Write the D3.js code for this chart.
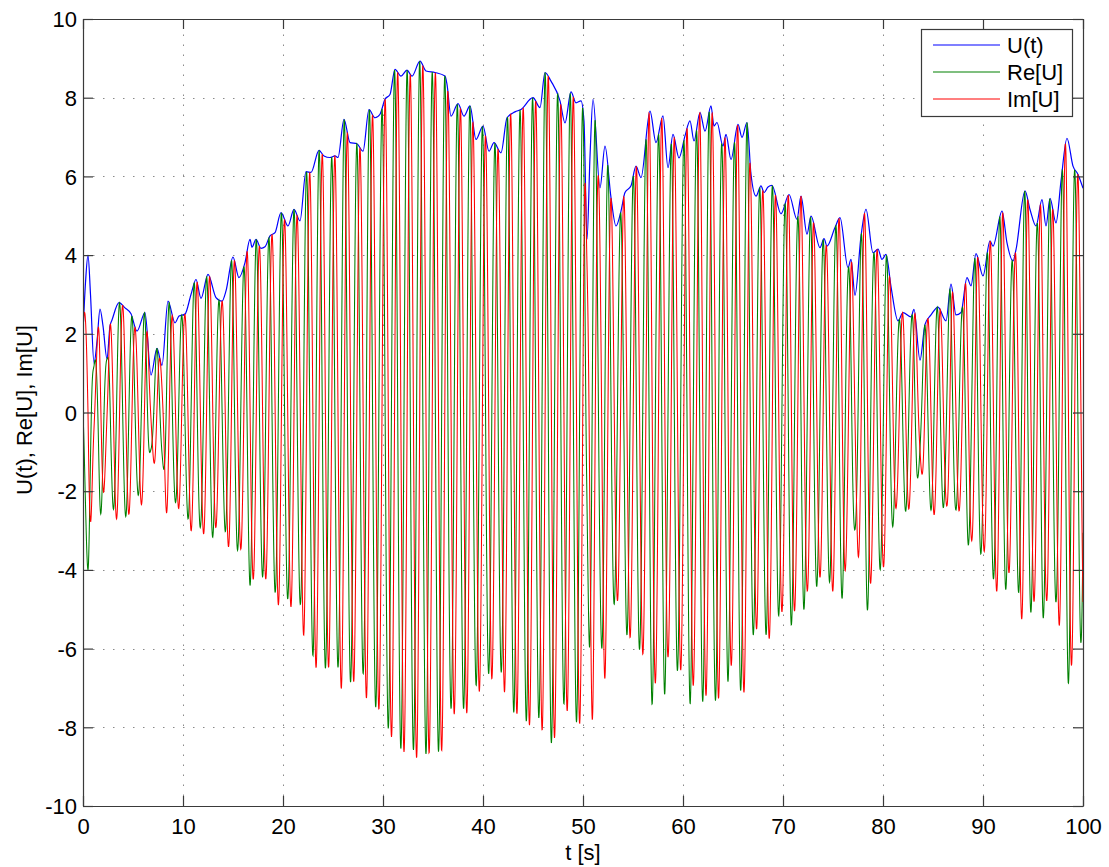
<!DOCTYPE html>
<html>
<head>
<meta charset="utf-8">
<script src="https://cdn.jsdelivr.net/npm/d3@7"></script>
<style>
  html, body { margin: 0; padding: 0; background: #fff; }
  svg { display: block; font-family: "Liberation Sans", Arial, Helvetica, sans-serif; }
</style>
</head>
<body>
<svg id="chart" width="1109" height="867"></svg>
<script>
// Modulus |U(t)| samples: time [s] and value.
const envT = [
  0.0, 0.25, 0.5, 0.75, 1.1, 1.4, 1.7, 2.0, 2.4, 2.7, 2.9, 3.6, 4.2, 4.8, 5.4, 6.2, 6.8, 7.4, 7.9,
  8.5, 9.2, 9.6, 10.2, 10.8, 11.3, 11.8, 12.5, 13.3, 13.9, 14.3, 15.0, 15.6, 16.2, 16.7, 16.9,
  17.3, 17.8, 18.2, 18.7, 19.2, 19.8, 20.5, 21.1, 21.7, 22.3, 22.8, 23.6, 24.1, 24.7, 25.2, 25.5,
  26.1, 26.7, 27.4, 28.0, 28.6, 29.2, 29.7, 30.2, 30.7, 31.2, 31.8, 32.4, 32.9, 33.7, 34.3, 35.2,
  36.2, 36.4, 36.8, 37.5, 38.1, 38.7, 39.3, 40.0, 40.6, 41.1, 41.8, 42.4, 43.2, 43.8, 45.0, 45.7,
  46.2, 46.8, 47.7, 48.2, 48.8, 49.3, 49.8, 50.1, 50.4, 50.7, 51.0, 51.7, 52.2, 52.8, 53.3, 53.8,
  54.2, 54.8, 55.3, 55.8, 56.7, 57.3, 58.0, 58.5, 59.0, 59.6, 60.2, 60.7, 61.1, 61.7, 62.2, 62.8,
  63.1, 63.4, 64.0, 64.3, 64.8, 65.5, 65.9, 66.4, 66.8, 67.3, 67.8, 68.1, 68.5, 68.9, 69.8, 70.6,
  71.4, 71.8, 72.4, 72.8, 73.7, 74.1, 74.4, 75.2, 75.7, 76.5, 76.8, 77.2, 77.8, 78.3, 79.0, 79.5,
  79.9, 80.3, 80.8, 81.5, 82.0, 82.8, 83.1, 83.7, 84.2, 84.8, 85.5, 86.3, 86.8, 87.3, 87.8, 88.4,
  88.8, 89.3, 90.0, 90.7, 91.0, 91.9, 92.4, 93.0, 93.3, 94.2, 94.7, 95.3, 95.9, 96.3, 96.7, 97.3,
  97.8, 98.4, 99.0, 99.5, 100.0
];
const envU = [
  2.05, 3.3, 4.0, 3.0, 1.25, 1.8, 2.63, 2.2, 1.36, 2.2, 2.35, 2.79, 2.66, 2.51, 2.07, 2.54, 0.95, 1.63, 1.2,
  2.83, 2.28, 2.45, 2.5, 3.0, 3.38, 2.9, 3.51, 2.92, 2.83, 3.09, 3.95, 3.43, 3.81, 4.40, 4.2,
  4.40, 4.17, 4.21, 4.49, 4.57, 5.08, 4.74, 5.16, 4.87, 6.12, 6.10, 6.66, 6.52, 6.48, 6.52, 6.48,
  7.45, 6.86, 6.83, 6.64, 7.70, 7.49, 7.58, 7.96, 8.08, 8.72, 8.55, 8.70, 8.55, 8.93, 8.68, 8.64,
  8.55, 8.34, 7.53, 7.85, 7.53, 7.79, 6.94, 7.28, 6.64, 6.86, 6.6, 7.49, 7.64, 7.70, 8.00, 7.75,
  8.64, 8.42, 7.92, 7.36, 8.15, 7.87, 7.92, 7.4, 4.4, 6.5, 7.96, 5.71, 6.77, 5.46, 4.74, 5.12,
  5.59, 5.76, 6.26, 5.97, 7.66, 6.86, 7.54, 6.22, 7.07, 6.47, 7.03, 7.41, 6.90, 7.62, 7.15, 7.79,
  7.28, 7.37, 6.77, 7.07, 6.43, 7.32, 6.99, 7.37, 6.05, 5.50, 5.76, 5.59, 5.73, 5.77, 5.05, 5.54,
  4.91, 5.50, 4.53, 4.99, 4.19, 4.42, 4.23, 4.7, 4.95, 3.68, 3.89, 2.98, 4.48, 5.16, 4.06, 4.15,
  3.89, 4.02, 3.2, 2.33, 2.54, 2.43, 2.62, 1.33, 2.24, 2.48, 2.68, 2.33, 3.26, 2.48, 2.54, 3.43,
  3.22, 4.04, 3.47, 4.36, 4.23, 5.12, 4.31, 3.85, 4.14, 5.63, 5.16, 4.74, 5.41, 4.74, 5.44, 4.82,
  5.88, 6.97, 6.26, 6.05, 5.7
];

// Phase of U(t) in cycles at reference times (integer = crest of Re[U]).
const phaseT   = [0, 0.5, 1.17, 17.33, 33.67, 51.23, 67.67, 84.17, 99.17, 100];
const phaseCyc = [0.25, 0.5, 1, 14, 27, 41, 54, 67, 79, 79.66];

const xTicks = [0, 10, 20, 30, 40, 50, 60, 70, 80, 90, 100];
const yTicks = [-10, -8, -6, -4, -2, 0, 2, 4, 6, 8, 10];

const seriesNames = ["U(t)", "Re[U]", "Im[U]"];
const seriesColors = ["#0000ff", "#008000", "#ff0000"];

const xLabel = "t [s]";
const yLabel = "U(t), Re[U], Im[U]";

// ---- layout ----
const svg = d3.select("#chart");
const plotL = 83, plotR = 1083, plotT = 19, plotB = 806;
const x = d3.scaleLinear().domain([0, 100]).range([plotL, plotR]);
const y = d3.scaleLinear().domain([-10, 10]).range([plotB, plotT]);
const FONT = 22;

// ---- monotone cubic evaluation (same tangents as d3.curveMonotoneX) ----
function sgn(v) { return v < 0 ? -1 : 1; }
function monotoneTangents(xs, ys) {
  const n = xs.length, t = new Array(n).fill(0);
  for (let i = 1; i < n - 1; i++) {
    const h0 = xs[i] - xs[i - 1], h1 = xs[i + 1] - xs[i];
    const s0 = (ys[i] - ys[i - 1]) / h0, s1 = (ys[i + 1] - ys[i]) / h1;
    const p = (s0 * h1 + s1 * h0) / (h0 + h1);
    t[i] = (sgn(s0) + sgn(s1)) * Math.min(Math.abs(s0), Math.abs(s1), 0.5 * Math.abs(p)) || 0;
  }
  const hA = xs[1] - xs[0];
  t[0] = (3 * (ys[1] - ys[0]) / hA - t[1]) / 2;
  const hB = xs[n - 1] - xs[n - 2];
  t[n - 1] = (3 * (ys[n - 1] - ys[n - 2]) / hB - t[n - 2]) / 2;
  return t;
}
const envTan = monotoneTangents(envT, envU);
const bis = d3.bisector(d => d).right;
function modulusAt(tt) {
  const i = Math.min(Math.max(bis(envT, tt) - 1, 0), envT.length - 2);
  const x0 = envT[i], x1 = envT[i + 1], h = x1 - x0, u = (tt - x0) / h;
  const y0 = envU[i], y1 = envU[i + 1], m0 = envTan[i] * h, m1 = envTan[i + 1] * h;
  const u2 = u * u, u3 = u2 * u;
  return (2 * u3 - 3 * u2 + 1) * y0 + (u3 - 2 * u2 + u) * m0 + (-2 * u3 + 3 * u2) * y1 + (u3 - u2) * m1;
}
const phaseScale = d3.scaleLinear().domain(phaseT).range(phaseCyc);

// Real and imaginary parts on a fine time grid: U = |U| e^{i 2π φ}
const dt = 0.025;
const tGrid = d3.range(0, 100 + dt / 2, dt);
const reU = tGrid.map(tt => [tt, modulusAt(tt) * Math.cos(2 * Math.PI * phaseScale(tt))]);
const imU = tGrid.map(tt => [tt, modulusAt(tt) * Math.sin(2 * Math.PI * phaseScale(tt))]);
const absU = envT.map((tt, i) => [tt, envU[i]]);

// ---- grid ----
const grid = svg.append("g").attr("stroke", "#8a8a8a").attr("stroke-width", 1)
  .attr("stroke-dasharray", "1.5,8.5");
grid.selectAll("line.gx").data(xTicks.slice(1, -1)).join("line")
  .attr("x1", d => Math.round(x(d)) + 0.5).attr("x2", d => Math.round(x(d)) + 0.5)
  .attr("y1", plotB).attr("y2", plotT);
grid.selectAll("line.gy").data(yTicks.slice(1, -1)).join("line")
  .attr("y1", d => Math.round(y(d)) + 0.5).attr("y2", d => Math.round(y(d)) + 0.5)
  .attr("x1", plotL).attr("x2", plotR);

// ---- data lines ----
const clipId = "plotClip";
svg.append("clipPath").attr("id", clipId).append("rect")
  .attr("x", plotL).attr("y", plotT).attr("width", plotR - plotL).attr("height", plotB - plotT);
const plot = svg.append("g").attr("clip-path", `url(#${clipId})`).attr("fill", "none");

const smoothLine = d3.line().x(d => x(d[0])).y(d => y(d[1])).curve(d3.curveMonotoneX);
const plainLine = d3.line().x(d => x(d[0])).y(d => y(d[1]));

plot.append("path").datum(absU).attr("d", smoothLine)
  .attr("stroke", seriesColors[0]).attr("stroke-width", 1.2);
plot.append("path").datum(reU).attr("d", plainLine)
  .attr("stroke", seriesColors[1]).attr("stroke-width", 1.05);
plot.append("path").datum(imU).attr("d", plainLine)
  .attr("stroke", seriesColors[2]).attr("stroke-width", 1.05);

// ---- axes box with inward ticks on all sides ----
const axisColor = "#3a3a3a";
const tickLen = 10;
const fmt = d => String(d);

const gx = svg.append("g").attr("transform", `translate(0,${plotB})`)
  .call(d3.axisBottom(x).tickValues(xTicks).tickFormat(fmt).tickSizeInner(-tickLen).tickSizeOuter(0).tickPadding(19));
const gy = svg.append("g").attr("transform", `translate(${plotL},0)`)
  .call(d3.axisLeft(y).tickValues(yTicks).tickFormat(fmt).tickSizeInner(-tickLen).tickSizeOuter(0).tickPadding(6));
const gxTop = svg.append("g").attr("transform", `translate(0,${plotT})`)
  .call(d3.axisTop(x).tickValues(xTicks).tickFormat("").tickSizeInner(-tickLen).tickSizeOuter(0));
const gyRight = svg.append("g").attr("transform", `translate(${plotR},0)`)
  .call(d3.axisRight(y).tickValues(yTicks).tickFormat("").tickSizeInner(-tickLen).tickSizeOuter(0));

[gx, gy, gxTop, gyRight].forEach(g => {
  g.selectAll("path.domain").attr("stroke", axisColor).attr("stroke-width", 1.2);
  g.selectAll(".tick line").attr("stroke", axisColor).attr("stroke-width", 1.2);
  g.selectAll(".tick text").attr("fill", "#000").attr("font-size", FONT)
    .attr("font-family", "'Liberation Sans', Arial, Helvetica, sans-serif");
});
gx.selectAll(".tick text").attr("dy", "0.4em");
gy.selectAll(".tick text").attr("dy", "0.35em");

// ---- axis labels ----
svg.append("text").attr("x", (plotL + plotR) / 2).attr("y", 860)
  .attr("text-anchor", "middle").attr("font-size", FONT).attr("fill", "#000").text(xLabel);
svg.append("text").attr("transform", `translate(32,410) rotate(-90)`)
  .attr("text-anchor", "middle").attr("font-size", FONT).attr("fill", "#000").text(yLabel);

// ---- legend ----
const legend = svg.append("g");
legend.append("rect").attr("x", 921.5).attr("y", 29.5).attr("width", 151).attr("height", 87)
  .attr("fill", "#fff").attr("stroke", axisColor).attr("stroke-width", 1.2);
const rowY = [45, 72, 99];
seriesNames.forEach((name, i) => {
  legend.append("line").attr("x1", 933).attr("x2", 1000).attr("y1", rowY[i]).attr("y2", rowY[i])
    .attr("stroke", seriesColors[i]).attr("stroke-width", 1.2);
  legend.append("text").attr("x", 1007).attr("y", rowY[i] + 8)
    .attr("font-size", FONT).attr("fill", "#000").text(name);
});
</script>
</body>
</html>
